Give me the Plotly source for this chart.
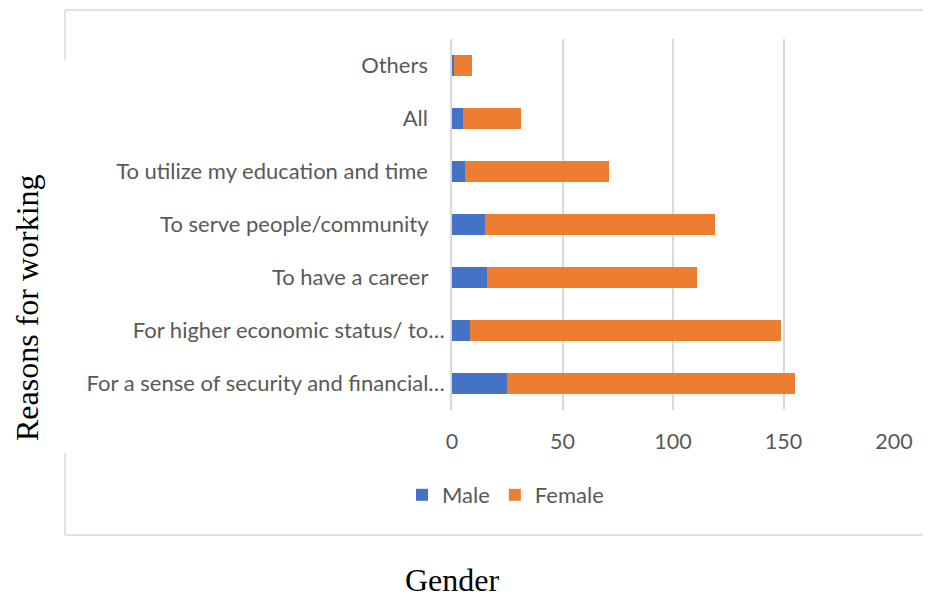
import plotly.graph_objects as go

categories = [
    "For a sense of security and financial…",
    "For higher economic status/ to…",
    "To have a career",
    "To serve people/community",
    "To utilize my education and time",
    "All",
    "Others",
]
male = [25, 8, 16, 15, 6, 5, 1]
female = [130, 141, 95, 104, 65, 26, 8]
x_ticks = [0, 50, 100, 150, 200]

OFF = 8  # page body margin
W, H = 931 - OFF, 597 - OFF
# plot area in reference pixels
L, R, T, B = 452, 894, 39, 410


def px(x):
    return (x - L) / (R - L)


def py(y):
    return (B - y) / (B - T)


tick_font = dict(family="Lato, Carlito, sans-serif", size=22, color="#595959")
num_font = dict(family="Lato, Carlito, sans-serif", size=21.5, color="#595959")

fig = go.Figure()
fig.add_trace(go.Bar(y=categories, x=male, name="Male", orientation="h",
                     marker=dict(color="#4472C4", line=dict(width=0))))
fig.add_trace(go.Bar(y=categories, x=female, name="Female", orientation="h",
                     marker=dict(color="#ED7D31", line=dict(width=0))))

ticktext = [c if c.endswith("…") else c + "\u00a0" * 3 for c in categories]

fig.update_layout(
    width=W, height=H,
    margin=dict(l=L - OFF, r=931 - R, t=T - OFF, b=597 - B),
    barmode="stack", bargap=0.6,
    plot_bgcolor="white", paper_bgcolor="white",
    showlegend=True,
    legend=dict(orientation="h", x=px(402), y=py(495), xanchor="left", yanchor="middle",
                font=tick_font, traceorder="normal", itemwidth=30),
    xaxis=dict(range=[0, 200], tickvals=x_ticks, showgrid=True, gridcolor="#d9d9d9",
               gridwidth=1.5, zeroline=False, showline=False, tickfont=num_font,
               ticks="", ticklabelstandoff=16, fixedrange=True),
    yaxis=dict(categoryorder="array", categoryarray=categories, tickvals=categories,
               ticktext=ticktext, showgrid=False, zeroline=False, showline=True,
               linecolor="#d9d9d9", linewidth=1.5, ticks="", tickfont=tick_font,
               ticklabelstandoff=1, fixedrange=True),
)

line_style = dict(color="#d9d9d9", width=1.5)
segments = [
    (65, 10, 931, 10),
    (65, 535, 931, 535),
    (65, 10, 65, 60),
    (65, 453, 65, 535),
]
for x0, y0, x1, y1 in segments:
    fig.add_shape(type="line", xref="paper", yref="paper",
                  x0=px(x0), y0=py(y0), x1=px(x1), y1=py(y1), line=line_style)

serif = dict(family="Liberation Serif, Times New Roman, serif", size=32, color="black")
fig.add_annotation(text="Reasons for working", xref="paper", yref="paper",
                   x=px(27), y=py(308), textangle=-90, showarrow=False,
                   xanchor="center", yanchor="middle", font=serif)
fig.add_annotation(text="Gender", xref="paper", yref="paper",
                   x=px(452), y=py(580), showarrow=False,
                   xanchor="center", yanchor="middle", font=serif)

fig.write_html("out.html")
